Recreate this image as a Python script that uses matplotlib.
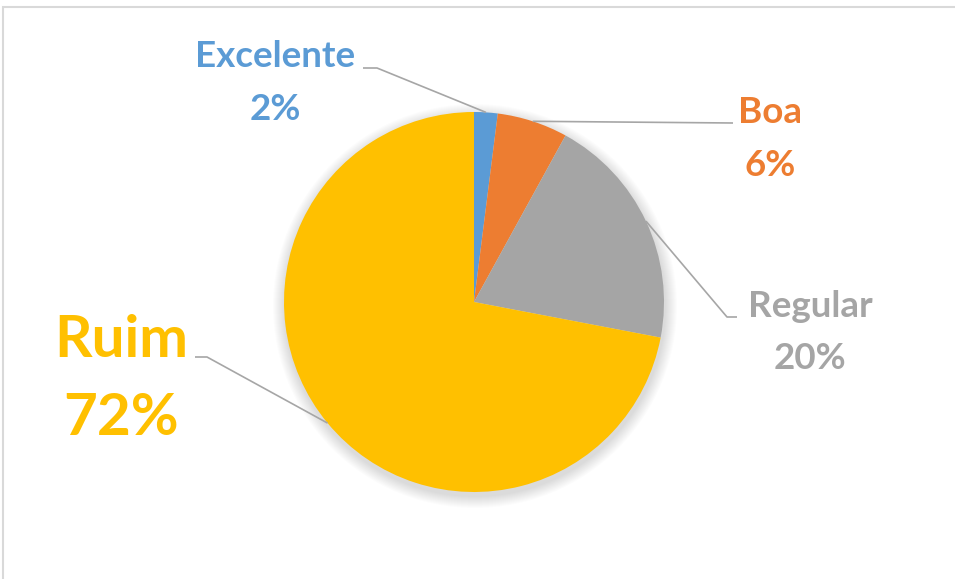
import numpy as np
import matplotlib
matplotlib.use("Agg")
import matplotlib.pyplot as plt
from matplotlib.patches import Circle, Rectangle

categories = ["Excelente", "Boa", "Regular", "Ruim"]
values = [2, 6, 20, 72]
pct_labels = ["2%", "6%", "20%", "72%"]
colors = ["#5B9BD5", "#ED7D31", "#A5A5A5", "#FFC000"]

W, H = 955, 579
fig = plt.figure(figsize=(W / 100, H / 100), dpi=100)
ax = fig.add_axes([0, 0, 1, 1])
ax.set_xlim(0, W)
ax.set_ylim(0, H)
ax.axis("off")

# chart border (light gray)
ax.add_patch(Rectangle((3, -10), W + 20, H - 7 + 10, fill=False,
                       edgecolor="#D9D9D9", linewidth=1.5, zorder=0))

cx, cy, R = 474, H - 302, 190

# soft shadow
for i in range(12):
    ax.add_patch(Circle((cx + 1, cy - 4), R + 12 - i, color="black",
                        alpha=0.012, linewidth=0, zorder=1))

wedges, _ = ax.pie(values, colors=colors, startangle=90, counterclock=False,
                   center=(cx, cy), radius=R, frame=False,
                   wedgeprops=dict(linewidth=0, zorder=2))
ax.set_xlim(0, W)
ax.set_ylim(0, H)
ax.set_aspect("equal")

# label layout (pixel coords from top)
label_layout = {
    "Excelente": dict(tx=275, ty1=67, ty2=120, fs=26.5, path=[(377, 68), (363, 68)]),
    "Boa": dict(tx=770, ty1=123, ty2=176, fs=26.5, path=[(733, 123)]),
    "Regular": dict(tx=810, ty1=317, ty2=369, fs=26.5, path=[(727, 317), (737, 317)]),
    "Ruim": dict(tx=121, ty1=357, ty2=435, fs=42, path=[(207, 357), (195, 357)]),
}

for w, cat, pct, col in zip(wedges, categories, pct_labels, colors):
    mid = np.deg2rad((w.theta1 + w.theta2) / 2)
    ex, ey = cx + R * np.cos(mid), cy + R * np.sin(mid)
    lay = label_layout[cat]
    xs = [ex] + [p[0] for p in lay["path"]]
    ys = [ey] + [H - p[1] for p in lay["path"]]
    ax.plot(xs, ys, color="#A6A6A6", linewidth=1.2, zorder=3,
            solid_capstyle="butt")
    ax.text(lay["tx"], H - lay["ty1"], cat, color=col, fontsize=lay["fs"],
            fontweight="bold", family="Lato", ha="center", va="baseline", zorder=4)
    ax.text(lay["tx"], H - lay["ty2"], pct, color=col, fontsize=lay["fs"],
            fontweight="bold", family="Lato", ha="center", va="baseline", zorder=4)

fig.savefig("out.png", dpi=100, facecolor="white")
